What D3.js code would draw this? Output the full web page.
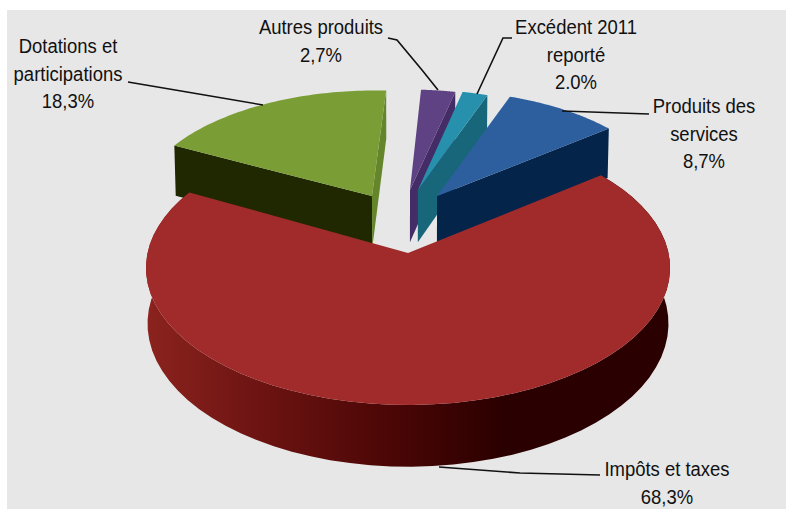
<!DOCTYPE html>
<html>
<head>
<meta charset="utf-8">
<script src="https://cdn.jsdelivr.net/npm/d3@7"></script>
<style>
  html, body { margin: 0; padding: 0; background: #fff; }
  svg { display: block; }
  text { font-family: "Liberation Sans", Arial, sans-serif; font-size: 21px; fill: #111; }
</style>
</head>
<body>
<svg id="chart"></svg>
<script>
const categories = ['Impôts et taxes', 'Dotations et participations', 'Autres produits', 'Excédent 2011 reporté', 'Produits des services'];
const values = [68.3, 18.3, 2.7, 2.0, 8.7];
const valueLabels = ['68,3%', '18,3%', '2,7%', '2.0%', '8,7%'];

const width = 786, height = 509;
const svg = d3.select('#chart').attr('width', width).attr('height', height);

svg.append('rect').attr('x', 7).attr('y', 10).attr('width', 779).attr('height', 499).attr('fill', '#e7e7e7');

// Perspective: p makes the far side of the disc smaller
const cx = 408, cy = 253, R = 260.5, A = 135.4, p = 0.109, depth = 55;

function project(u, v, z) {
    const w = 1 + p * v;
    return [cx + R * (u / w) * (1 - 0.006 * z), cy - A * (v / w) + z * depth / w];
}

const startAngle = 52.2 * Math.PI / 180;
const pie = d3.pie().sort(null).startAngle(startAngle).endAngle(startAngle + 2 * Math.PI);
const arcs = pie(values);

// turn = small rotation in degrees, the original's perspective bends the angles a bit
const styles = [
    { top: '#a02b2a', offset: [0, 0], r: 1, turn: 0 },
    { top: '#7a9e35', start: '#1f2800', end: '#64852a', offset: [-0.145, 0.441], r: 0.94, turn: -1 },
    { top: '#5f4283', end: '#442d66', offset: [0.008, 0.49], r: 0.9, turn: -0.8 },
    { top: '#2790ac', end: '#17667a', offset: [0.04, 0.49], r: 0.9, turn: -0.8 },
    { top: '#2d5f9f', end: '#04244a', offset: [0.117, 0.441], r: 0.94, turn: -0.3 }
];

const line = d3.line();

function rimPoint(a, s, z) {
    const t = a + s.turn * Math.PI / 180;
    return project(s.offset[0] + s.r * Math.sin(t), s.offset[1] + s.r * Math.cos(t), z);
}

function rim(d, s, z) {
    return d3.range(0, 61).map(i => rimPoint(d.startAngle + (d.endAngle - d.startAngle) * i / 60, s, z));
}

function radialFace(a, s) {
    const apexTop = project(s.offset[0], s.offset[1], 0);
    const apexBottom = project(s.offset[0], s.offset[1], 1);
    return [apexTop, rimPoint(a, s, 0), rimPoint(a, s, 1), apexBottom];
}

// wall shading of the big slice, dark towards the right
const grad = svg.append('defs').append('linearGradient')
    .attr('id', 'wall').attr('gradientUnits', 'userSpaceOnUse')
    .attr('x1', 146).attr('x2', 670).attr('y1', 0).attr('y2', 0);
[[0, '#8b231e'], [0.2, '#6f1513'], [0.45, '#4d0706'], [0.68, '#2b0000'], [1, '#2b0000']].forEach(([o, c]) => {
    grad.append('stop').attr('offset', o).attr('stop-color', c);
});

// big slice goes last: it sits in front of the pulled out ones
const order = [1, 2, 3, 4, 0];
order.forEach(i => {
    const d = arcs[i], s = styles[i];
    const g = svg.append('g');
    if (s.start) g.append('path').attr('d', line(radialFace(d.startAngle, s)) + 'Z').attr('fill', s.start);
    if (s.end) g.append('path').attr('d', line(radialFace(d.endAngle, s)) + 'Z').attr('fill', s.end);
    if (i === 0) {
        g.append('path').attr('d', line(rim(d, s, 0).concat(rim(d, s, 1).reverse())) + 'Z').attr('fill', 'url(#wall)');
    }
    g.append('path')
        .attr('d', line([project(s.offset[0], s.offset[1], 0)].concat(rim(d, s, 0))) + 'Z')
        .attr('fill', s.top);
});

// leader lines
const leaders = [
    [[128, 82], [187, 92], [263, 105]],
    [[388, 38], [397, 40], [422, 70], [438, 90]],
    [[512, 38], [503, 38], [477, 94]],
    [[562, 111], [649, 114]],
    [[439, 467], [520, 473], [600, 475]]
];
leaders.forEach(l => {
    svg.append('path').attr('d', line(l)).attr('fill', 'none').attr('stroke', '#111').attr('stroke-width', 1.6);
});

// label texts, line by line; the original type is tall and narrow
const labelLayout = [
    { x: 667, y: 476, lines: [categories[0], valueLabels[0]] },
    { x: 68, y: 53, lines: ['Dotations et', 'participations', valueLabels[1]] },
    { x: 321, y: 34, lines: [categories[2], valueLabels[2]] },
    { x: 576, y: 34, lines: ['Excédent 2011', 'reporté', valueLabels[3]] },
    { x: 704, y: 113, lines: ['Produits des', 'services', valueLabels[4]] }
];
labelLayout.forEach(l => {
    l.lines.forEach((s, j) => {
        svg.append('text')
            .attr('text-anchor', 'middle')
            .attr('transform', `translate(${l.x},${l.y + j * 27.6}) scale(0.88,1)`)
            .text(s);
    });
});
</script>
</body>
</html>
